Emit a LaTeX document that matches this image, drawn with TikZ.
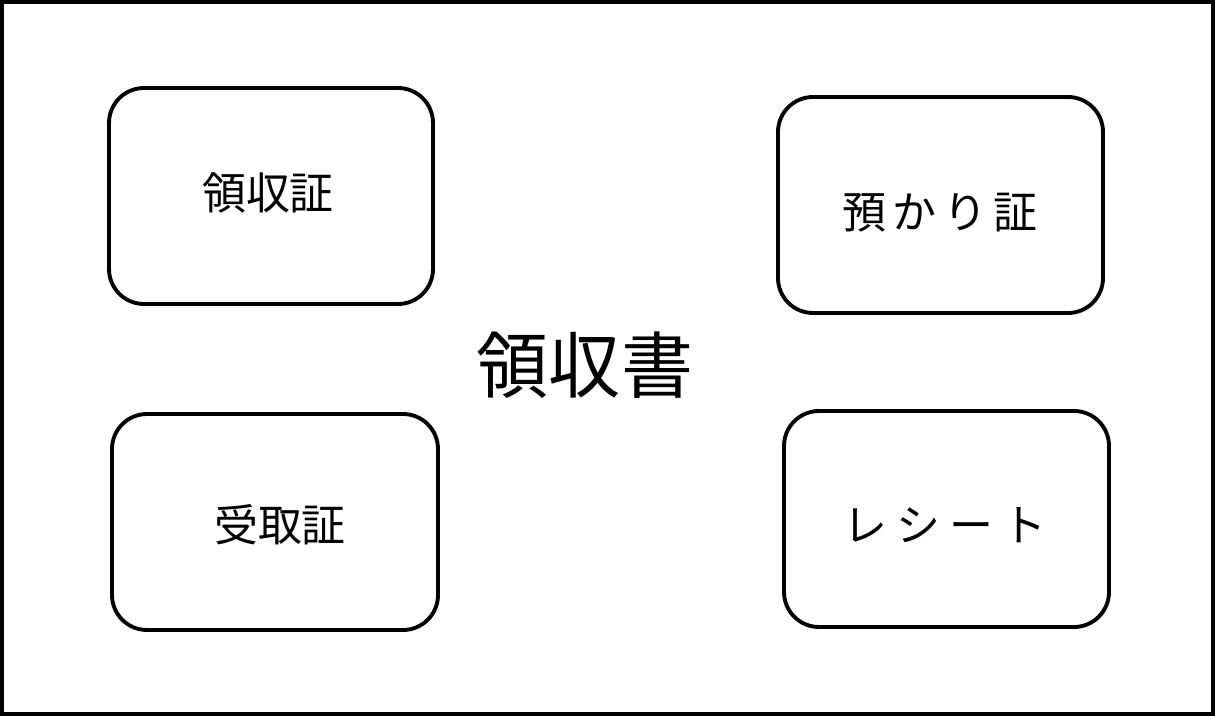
\documentclass[tikz,border=0pt]{standalone}
\usepackage{fontspec}
\setmainfont{Noto Sans CJK JP}
\begin{document}
\begin{tikzpicture}[x=0.02cm,y=-0.02cm,
  box/.style={draw,line width=2.2pt,rounded corners=0.7cm},
  lbl/.style={font=\fontsize{25}{28}\selectfont}]
\useasboundingbox (0,0) rectangle (1215,716);
\draw[line width=2.2pt] (2,2) rectangle (1213,714);
\draw[box] (109,88) rectangle (433,304);
\draw[box] (778,97) rectangle (1103,313);
\draw[box] (112,414) rectangle (438,630);
\draw[box] (784,411) rectangle (1109,627);
\node[lbl] (a) at (268,193) {領収証};
\node[lbl] (b) at (940,213) {預\hspace{0.15em}か\hspace{0.15em}り\hspace{0.15em}証};
\node[lbl] (c) at (280,525) {受取証};
\node[lbl] (d) at (945,525) {レ\hspace{0.2em}シ\hspace{0.2em}ー\hspace{0.2em}ト};
\node[font=\fontsize{41}{45}\selectfont] (m) at (585,365) {領収書};
\end{tikzpicture}
\end{document}
